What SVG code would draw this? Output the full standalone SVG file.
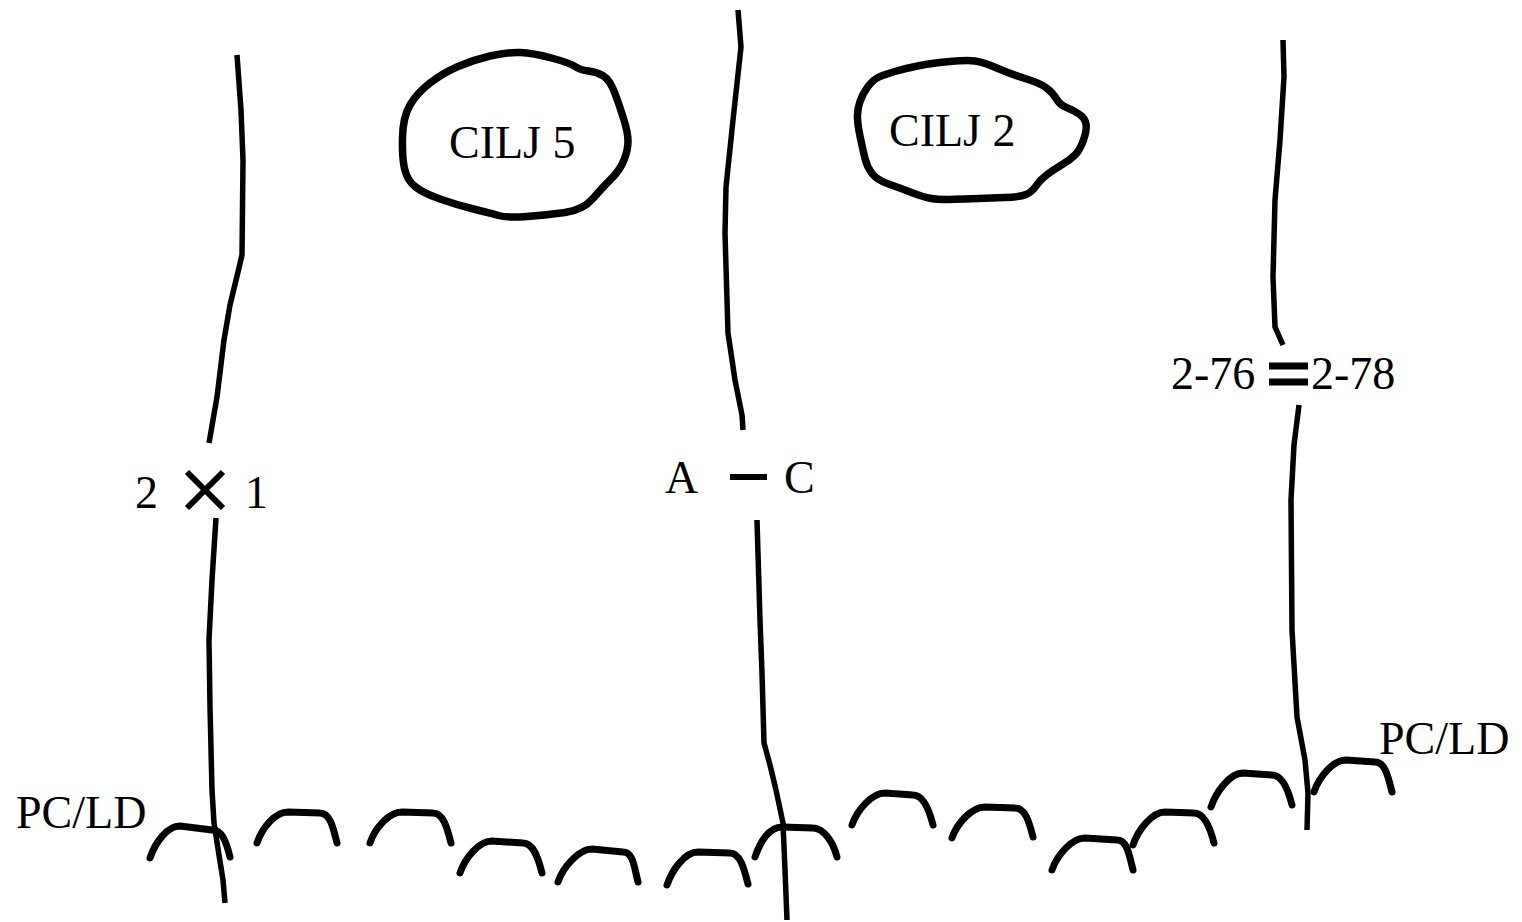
<svg xmlns="http://www.w3.org/2000/svg" width="1522" height="922" viewBox="0 0 1522 922">
<style>
.ln{fill:none;stroke:#000;stroke-width:5.5;stroke-linecap:butt;stroke-linejoin:round}
.arc{fill:none;stroke:#000;stroke-width:7;stroke-linecap:round;stroke-linejoin:round}
.blob{fill:none;stroke:#000;stroke-width:7.5;stroke-linejoin:round}
.sym{fill:none;stroke:#000;stroke-width:6;stroke-linecap:butt}
.t{font-family:"Liberation Serif","Times New Roman",serif;font-size:46px;fill:#000}
</style>
<rect width="1522" height="922" fill="#fff"/>
<g id="connectors">
<path class="ln" d="M237,55 L241,110 L243,160 L242,255 L238,272 L230,305 L224,340 L217,397 L209,443"/>
<path class="ln" d="M216,518 L212,580 L209,640 L210,707 L212,790 L214,823 L219,855 L223,880 L225,903"/>
<path class="ln" d="M738,10 L741,47 L733,120 L726,187 L725,233 L728,333 L735,380 L742,415 L743,430"/>
<path class="ln" d="M757,520 L760,620 L762,673 L764,743 L770,765 L776,790 L783,823 L785,870 L787,920"/>
<path class="ln" d="M1283,40 L1284,77 L1280,140 L1275,200 L1273,277 L1275,327 L1283,345"/>
<path class="ln" d="M1299,405 L1294,445 L1291,500 L1292,630 L1297,717 L1305,760 L1308,793 L1307,830"/>
</g>
<g id="pcld-arcs">
<path class="arc" d="M150,858 C155,843 167,826 180,826 L212,830 C222,830 226,841 230,857"/>
<path class="arc" d="M257,843 C262,828 275,812 288,812 L320,813 C330,813 333,827 337,843"/>
<path class="arc" d="M370,843 C375,828 389,812 402,812 L433,813 C443,813 447,827 451,843"/>
<path class="arc" d="M460,873 C465,858 479,841 492,841 L523,843 C533,843 538,857 542,873"/>
<path class="arc" d="M558,882 C563,867 579,849 592,849 L623,852 C633,852 634,866 638,882"/>
<path class="arc" d="M667,885 C672,870 685,852 698,852 L730,853 C740,853 744,868 748,884"/>
<path class="arc" d="M755,857 C760,842 769,827 782,827 L813,828 C823,828 833,841 837,857"/>
<path class="arc" d="M852,825 C857,810 872,793 885,793 L913,795 C923,795 929,809 933,825"/>
<path class="arc" d="M952,838 C957,823 972,807 985,807 L1015,808 C1025,808 1029,821 1033,837"/>
<path class="arc" d="M1052,870 C1057,855 1072,838 1085,838 L1117,840 C1127,840 1129,854 1133,870"/>
<path class="arc" d="M1133,845 C1138,830 1152,812 1165,812 L1194,813 C1204,813 1210,827 1214,843"/>
<path class="arc" d="M1211,807 C1216,792 1230,773 1243,773 L1272,775 C1282,775 1288,789 1292,805"/>
<path class="arc" d="M1314,792 C1319,777 1333,760 1346,760 L1375,762 C1385,762 1388,776 1392,792"/>
</g>
<g id="cilj5">
<path class="blob" d="M490,56 Q507,52 520,52.5 Q533,53 551.5,58 Q570,63 575,66.5 Q580,70 588.5,71 Q597,72 603.5,76 Q610,80 615,93.5 Q620,107 624,120 Q628,133 628,141.5 Q628,150 624,160 Q620,170 611.5,178.5 Q603,187 593,198.5 Q583,210 565,212.5 Q547,215 527,216.5 Q507,218 498.5,215.5 Q490,213 473.5,209 Q457,205 440,199 Q423,193 415,186.5 Q407,180 404.5,168.5 Q402,157 402.5,137 Q403,117 410,105 Q417,93 430,83 Q443,73 458,66.5 Q473,60 490,56 Z"/>
<text class="t" x="449" y="158">CILJ 5</text>
</g>
<g id="cilj2">
<path class="blob" d="M878,77.5 Q883,75 895,71.5 Q907,68 920,65.5 Q933,63 950,61.5 Q967,60 975,61 Q983,62 998,68.5 Q1013,75 1026.5,79 Q1040,83 1046.5,88 Q1053,93 1056.5,99 Q1060,105 1066.5,107.5 Q1073,110 1079,114 Q1085,118 1086,124 Q1087,130 1083.5,140 Q1080,150 1075,155 Q1070,160 1061.5,165 Q1053,170 1046.5,175 Q1040,180 1036,186 Q1032,192 1026,194.5 Q1020,197 1005,197.5 Q990,198 965,199 Q940,200 931.5,198.5 Q923,197 911.5,192.5 Q900,188 888.5,184 Q877,180 872,173.5 Q867,167 865,158.5 Q863,150 860.5,138.5 Q858,127 857.5,118.5 Q857,110 860,101.5 Q863,93 868,86.5 Q873,80 878,77.5 Z"/>
<text class="t" x="889" y="146">CILJ 2</text>
</g>
<g id="junction-2x1">
<text class="t" x="135" y="508">2</text>
<path class="sym" d="M187,472 L223,508 M223,472 L187,508"/>
<text class="t" x="245" y="508">1</text>
</g>
<g id="junction-ac">
<text class="t" x="665" y="493">A</text>
<path class="sym" d="M730,477 L767,477"/>
<text class="t" x="784" y="493">C</text>
</g>
<g id="junction-276-278">
<text class="t" x="1171" y="389">2-76</text>
<path class="sym" d="M1269,366 L1308,366 M1269,382 L1308,382" style="stroke-width:7"/>
<text class="t" x="1311" y="389">2-78</text>
</g>
<g id="pcld-left">
<text class="t" x="16" y="828">PC/LD</text>
</g>
<g id="pcld-right">
<text class="t" x="1379" y="754">PC/LD</text>
</g>
</svg>
